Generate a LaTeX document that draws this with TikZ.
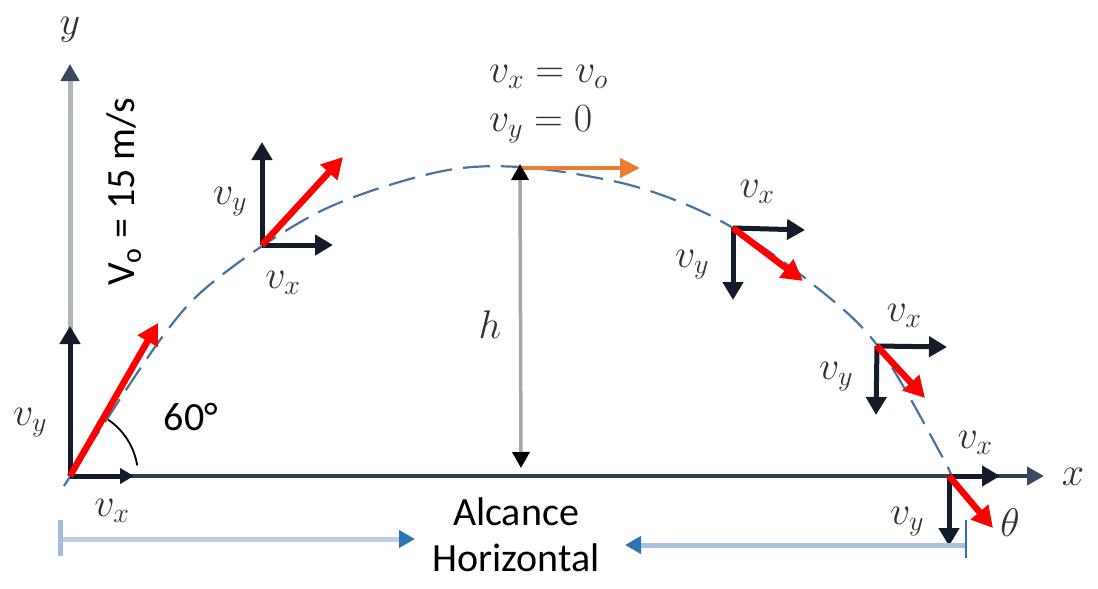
\RequirePackage{fix-cm}
\documentclass[tikz,border=0pt]{standalone}
\usepackage[no-math]{fontspec}
\setmainfont{Carlito}
\usepackage{tikz}
\usetikzlibrary{arrows.meta}
\definecolor{ink}{RGB}{20,28,44}
\definecolor{axisnavy}{RGB}{47,64,87}
\definecolor{axisgray}{RGB}{178,182,190}
\definecolor{axistip}{RGB}{60,72,92}
\definecolor{pathblue}{RGB}{72,116,164}
\definecolor{vorange}{RGB}{237,125,49}
\definecolor{rangeblue}{RGB}{46,117,182}
\definecolor{rangelight}{RGB}{190,206,232}
\definecolor{labelgray}{RGB}{50,50,50}
\tikzset{
  lbl/.style={font=\fontsize{40}{44}\selectfont,text=labelgray,inner sep=0pt},
  txt/.style={font=\fontsize{40}{46}\selectfont,text=black,inner sep=0pt,align=center},
  comp/.style={draw=ink,line width=5pt,-{Triangle[length=18pt,width=20pt]}},
  vel/.style={draw=red,line width=6.5pt,-{Triangle[length=21pt,width=22pt]}},
  traj/.style={draw=pathblue,line width=2.2pt,dash pattern=on 27pt off 11pt},
  rng/.style={draw=rangelight,line width=5pt,-{Triangle[length=16pt,width=17pt,color=rangeblue]}},
}

\begin{document}
\begin{tikzpicture}[x=1pt,y=-1pt]
  \useasboundingbox (0,0) rectangle (1098,589);
  % points on the path
  \coordinate (O) at (70,476);
  \coordinate (P1) at (262,245);
  \coordinate (top) at (520,168);
  \coordinate (P3) at (733,228);
  \coordinate (P4) at (877,346);
  \coordinate (P5) at (949,476);
  % trajectory
  \draw[traj] plot[smooth,tension=0.55] coordinates {(64,486) (160,340) (218,278) (323,210) (438,172) (520,167) (613,181) (675,200) (733,228) (810,282) (877,345) (943,458) (952,480)};
  % axes
  \coordinate (ytip) at (70,64);
  \coordinate (xtip) at (1044,476);
  \draw[draw=axisgray,line width=5pt,-{Triangle[length=17pt,width=18pt,color=axistip]}] (O) -- (ytip);
  \draw[draw=axisnavy,line width=4pt,-{Triangle[length=17pt,width=18pt,color=axistip]}] (O) -- (xtip);
  \node[lbl] (ylab) at (70,30) {$y$};
  \node[lbl] (xlab) at (1073,477) {$x$};
  % launch
  \coordinate (O-y) at (70,326);
  \coordinate (O-x) at (134,476);
  \coordinate (O-v) at (158,323);
  \draw[comp] (O) -- (O-y);
  \draw[comp,-{Triangle[length=14pt,width=15pt]}] (O) -- (O-x);
  \draw[vel] (O) -- (O-v);
  \draw[black,line width=1.8pt] (O) ++(-9:68) arc[start angle=-9,end angle=-56,radius=68];
  \node[lbl] (O-ylab) at (30,423) {$v_y$};
  \node[lbl] (O-xlab) at (112,511) {$v_x$};
  \node[txt] (ang) at (191,417) {60°};
  \node[txt,rotate=90] (vo) at (124,192) {V\textsubscript{o} = 15 m/s};
  % rising
  \coordinate (P1-y) at (262,142);
  \coordinate (P1-x) at (333,245);
  \coordinate (P1-v) at (343,157);
  \draw[comp] (P1) -- (P1-y);
  \draw[comp] (P1) -- (P1-x);
  \draw[vel] (P1) -- (P1-v);
  \node[lbl] (P1-ylab) at (230,202) {$v_y$};
  \node[lbl] (P1-xlab) at (283,283) {$v_x$};
  % highest point
  \coordinate (top-x) at (640,168);
  \coordinate (hbot) at (521,468);
  \draw[draw=vorange,line width=4.5pt,-{Triangle[length=20pt,width=19pt]}] (top) -- (top-x);
  \draw[draw=black!35,line width=3.5pt,{Triangle[length=16pt,width=17pt,color=black]}-{Triangle[length=16pt,width=17pt,color=black]}] ([yshift=4pt]top) -- (hbot);
  \node[lbl] (hlab) at (490,325) {$h$};
  \node[lbl,anchor=west] (toplab1) at (489,77) {$v_x = v_o$};
  \node[lbl,anchor=west] (toplab2) at (489,124) {$v_y = 0$};
  % falling
  \coordinate (P3-y) at (733,300);
  \coordinate (P3-x) at (805,230);
  \coordinate (P3-v) at (803,281);
  \draw[comp] (P3) -- (P3-y);
  \draw[comp] (P3) -- (P3-x);
  \draw[vel] (P3) -- (P3-v);
  \node[lbl] (P3-xlab) at (757,192) {$v_x$};
  \node[lbl] (P3-ylab) at (692,265) {$v_y$};
  \coordinate (P4-y) at (876,415);
  \coordinate (P4-x) at (947,347);
  \coordinate (P4-v) at (925,398);
  \draw[comp] (P4) -- (P4-y);
  \draw[comp] (P4) -- (P4-x);
  \draw[vel] (P4) -- (P4-v);
  \node[lbl] (P4-xlab) at (904,316) {$v_x$};
  \node[lbl] (P4-ylab) at (836,377) {$v_y$};
  % landing
  \coordinate (P5-y) at (949,546);
  \coordinate (P5-x) at (1000,476);
  \coordinate (P5-v) at (993,528);
  \draw[comp] (P5) -- (P5-y);
  \draw[comp] (P5) -- (P5-x);
  \draw[vel] (P5) -- (P5-v);
  \node[lbl] (P5-xlab) at (975,443) {$v_x$};
  \node[lbl] (P5-ylab) at (907,522) {$v_y$};
  \node[lbl] (thlab) at (1010,523) {$\theta$};
  % range
  \coordinate (rl) at (60,539);
  \coordinate (rl-tip) at (415,539);
  \coordinate (rr) at (966,545);
  \coordinate (rr-tip) at (625,545);
  \draw[rng] (rl) -- (rl-tip);
  \draw[rng,draw=rangelight!85!rangeblue] (rr) -- (rr-tip);
  \draw[draw=rangelight!80!rangeblue,line width=5pt] ([yshift=-17pt]rl) -- ([yshift=19pt]rl);
  \draw[draw=rangeblue,line width=2.5pt] ([yshift=-13pt]rr) -- ([yshift=25pt]rr);
  \node[txt] (alc) at (516,535) {Alcance\\Horizontal};
\end{tikzpicture}
\end{document}
